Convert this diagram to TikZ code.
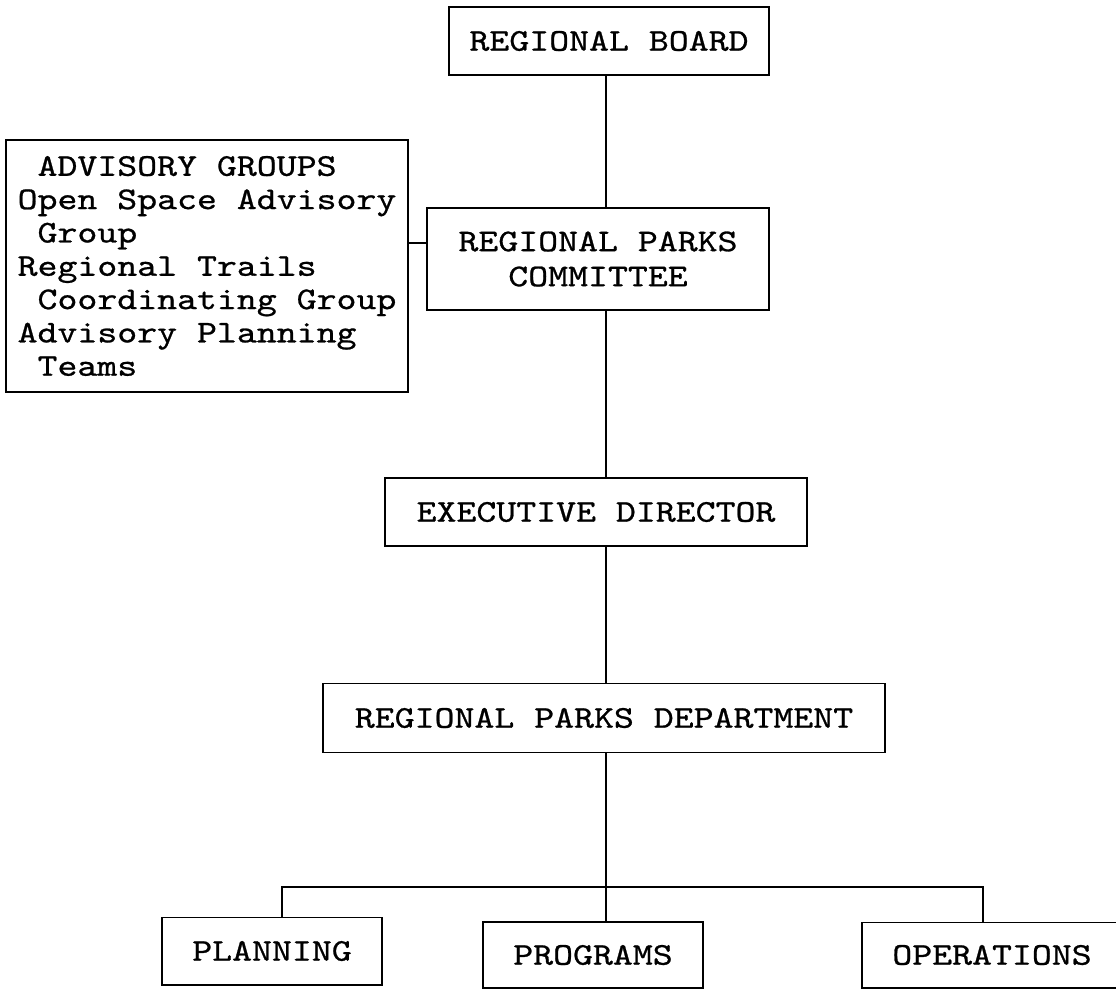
\documentclass[tikz,border=0pt]{standalone}
\usepackage{fontspec}
\newfontfamily\chartfont[FakeStretch=1.2, FakeBold=0.8]{lmmono10-regular.otf}
\usetikzlibrary{positioning}

\begin{document}
\begin{tikzpicture}
        [x=0.025cm, y=-0.025cm,
        on grid,
        every node/.style={font=\fontsize{22.5pt}{23.7pt}\selectfont\chartfont},
        unit/.style={draw, line width=1.4pt, align=center, inner sep=1pt},
        tall unit/.style={unit, font=\fontsize{22.5pt}{24.9pt}\selectfont\chartfont},
        link/.style={line width=1.4pt}]

        \useasboundingbox (0,0) rectangle (1116,990);

        \node[unit, minimum width=8cm, minimum height=1.7cm] (board) at (609,41) {REGIONAL BOARD};
        \node[tall unit, minimum width=8.525cm, minimum height=2.55cm] (committee) at (598,259) {REGIONAL PARKS\\COMMITTEE};
        \node[unit, align=left, minimum width=10.025cm, minimum height=6.3cm] (advisory) at (207,266)
                {\hphantom{A}ADVISORY GROUPS\\Open Space Advisory\\\hphantom{A}Group\\Regional Trails\\\hphantom{A}Coordinating Group\\Advisory Planning\\\hphantom{A}Teams};
        \node[unit, minimum width=10.55cm, minimum height=1.7cm] (exec) at (596,512) {EXECUTIVE DIRECTOR};
        \node[unit, minimum width=14.025cm, minimum height=1.725cm] (dept) at (604,718) {REGIONAL PARKS DEPARTMENT};

        \node[unit, minimum width=5.475cm, minimum height=1.675cm] (planning) at (272,951) {PLANNING};
        \node[unit, minimum width=5.5cm, minimum height=1.65cm] (programs) at (593,955) {PROGRAMS};
        \node[unit, minimum width=6.475cm, minimum height=1.625cm] (operations) at (992,955) {OPERATIONS};

        \coordinate (spine) at (606,0);
        \coordinate (bus) at (606,887);

        \draw[link] (board.south -| spine) -- (committee.north -| spine);
        \draw[link] ([yshift=0.4cm]committee.west) -- ([yshift=0.4cm]committee.west -| advisory.east);
        \draw[link] (committee.south -| spine) -- (exec.north -| spine);
        \draw[link] (exec.south -| spine) -- (dept.north -| spine);
        \draw[link] (dept.south -| spine) -- (programs.north -| spine);
        \draw[link] ([xshift=0.25cm]planning.north) |- (bus) -| ([xshift=-0.225cm]operations.north);
\end{tikzpicture}
\end{document}
